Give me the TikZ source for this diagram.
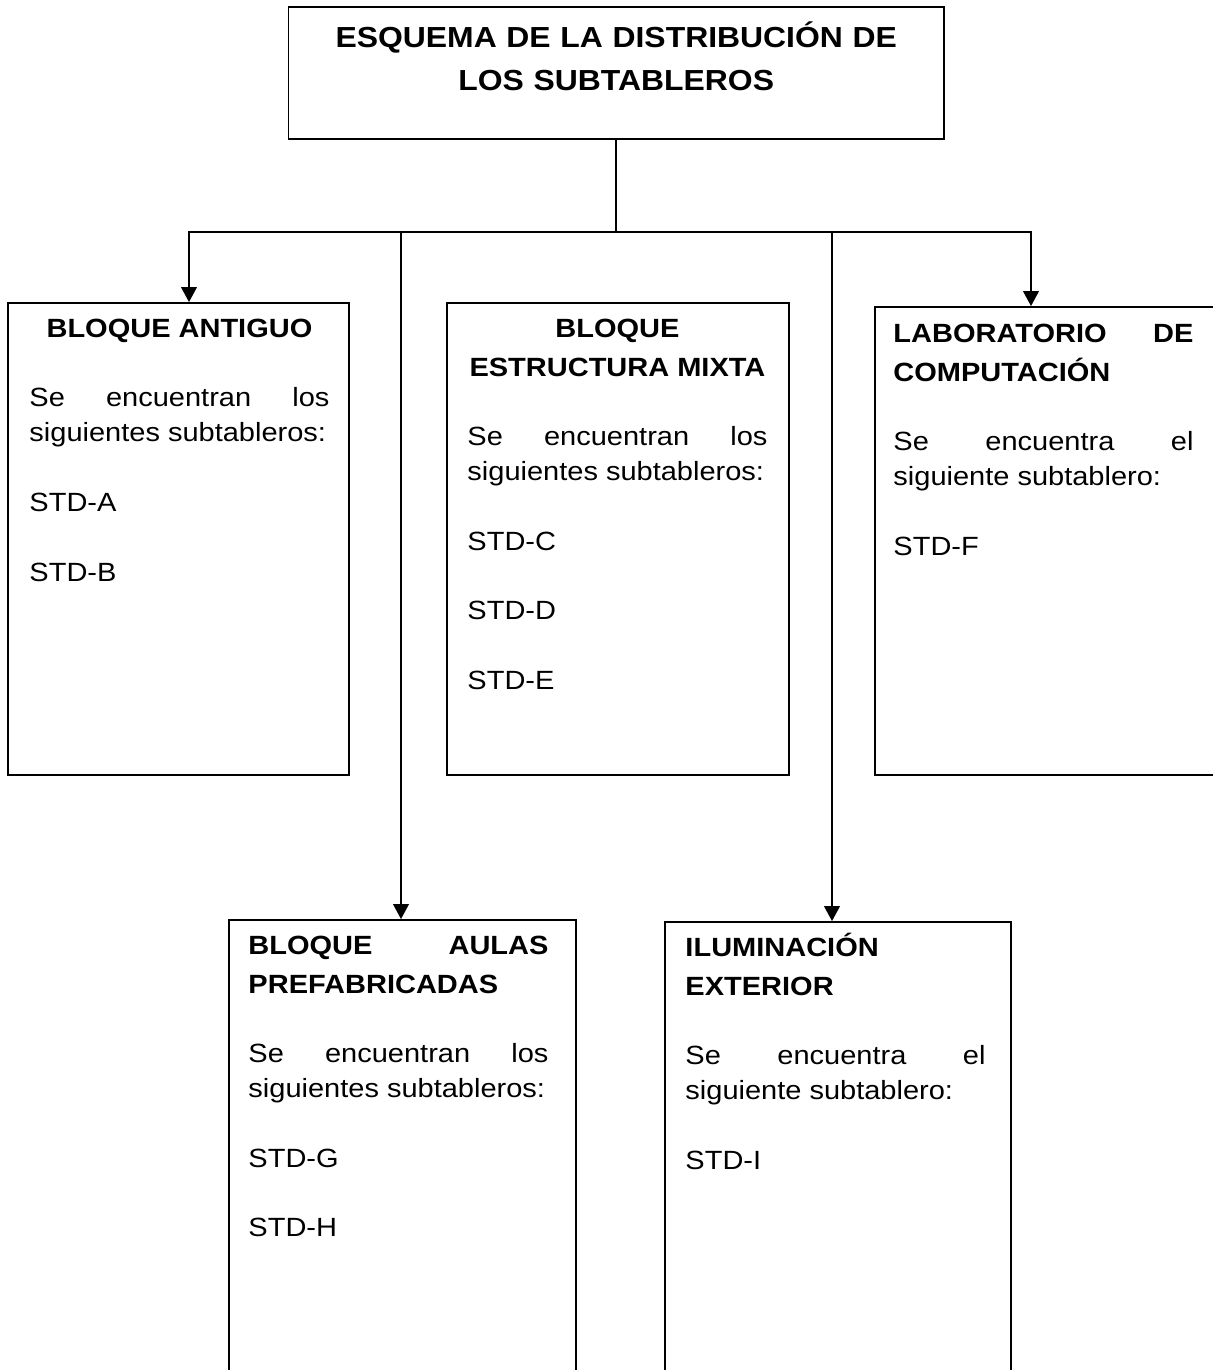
\documentclass[tikz,border=0pt]{standalone}
\usepackage{fontspec}
\setmainfont{Liberation Sans}[FakeStretch=1.1]
\usetikzlibrary{positioning,arrows.meta,calc}
\tolerance=10000
\hbadness=10000
\setlength\parindent{0pt}
\setlength\parskip{0pt}
\newcommand\esqhead{\bfseries\fontsize{15}{21.9}\selectfont}
\newcommand\esqgap[1]{\par\vspace{#1}}
\tikzset{
  esqbox/.style={draw, line width=1pt, inner sep=0pt},
  esqtext/.style={anchor=base west, inner sep=0pt, text width=6cm, align=justify,
    font=\fontsize{15}{19.9}\selectfont},
  esqarrow/.style={-{Triangle[length=3mm, width=3.1mm]}, line width=1.3pt},
}

\begin{document}
\begin{tikzpicture}
  \useasboundingbox (0,0) rectangle (24.24,-27.4);
  \node[esqbox, minimum width=13.11cm, minimum height=2.64cm] (titulo) at (12.325,-1.46) {};
  \node[anchor=base, inner sep=0pt, text width=13cm, align=center,
        font=\bfseries\fontsize{16.5}{24.5}\selectfont] (titulotxt)
        at ($(titulo.north)+(0,-0.82)$) {ESQUEMA DE LA DISTRIBUCIÓN DE\\LOS SUBTABLEROS};

  \node[esqbox, minimum width=6.82cm, minimum height=9.44cm] (antiguo) at (3.57,-10.78) {};
  \node[esqbox, minimum width=6.84cm, minimum height=9.44cm] (mixta) at (12.36,-10.78) {};
  \node[esqbox, minimum width=6.82cm, minimum height=9.36cm] (labo) at (20.91,-10.82) {};
  \node[esqbox, minimum width=6.94cm, minimum height=9.6cm] (aulas) at (8.05,-23.2) {};
  \node[esqbox, minimum width=6.92cm, minimum height=9.56cm] (ilum) at (16.76,-23.22) {};

  \node[esqtext] (antiguotxt) at ($(antiguo.north west)+(0.44,-0.71)$) {%
    {\centering\esqhead BLOQUE ANTIGUO\par}\vspace{0.68cm}
    Se encuentran los\linebreak siguientes subtableros:\esqgap{0.7cm}
    STD-A\esqgap{0.7cm}
    STD-B};
  \node[esqtext] (mixtatxt) at ($(mixta.north west)+(0.42,-0.71)$) {%
    {\centering\esqhead BLOQUE\par ESTRUCTURA MIXTA\par}\vspace{0.68cm}
    Se encuentran los\linebreak siguientes subtableros:\esqgap{0.7cm}
    STD-C\esqgap{0.7cm}
    STD-D\esqgap{0.7cm}
    STD-E};
  \node[esqtext] (labotxt) at ($(labo.north west)+(0.38,-0.73)$) {%
    {\esqhead LABORATORIO DE\linebreak COMPUTACIÓN\par}\vspace{0.68cm}
    Se encuentra el\linebreak siguiente subtablero:\esqgap{0.7cm}
    STD-F};
  \node[esqtext] (aulastxt) at ($(aulas.north west)+(0.4,-0.71)$) {%
    {\esqhead BLOQUE AULAS\linebreak PREFABRICADAS\par}\vspace{0.68cm}
    Se encuentran los\linebreak siguientes subtableros:\esqgap{0.7cm}
    STD-G\esqgap{0.7cm}
    STD-H};
  \node[esqtext] (ilumtxt) at ($(ilum.north west)+(0.42,-0.71)$) {%
    {\esqhead ILUMINACIÓN\par EXTERIOR\par}\vspace{0.68cm}
    Se encuentra el\linebreak siguiente subtablero:\esqgap{0.7cm}
    STD-I};

  \coordinate (busA) at (3.78,-4.64);
  \coordinate (busG) at (8.02,-4.64);
  \coordinate (busI) at (16.64,-4.64);
  \coordinate (busF) at (20.62,-4.64);
  \draw[esqarrow] (titulo.south) |- (busA) -- (busA |- antiguo.north);
  \draw[esqarrow] (titulo.south) |- (busF) -- (busF |- labo.north);
  \draw[esqarrow] (busG) -- (busG |- aulas.north);
  \draw[esqarrow] (busI) -- (busI |- ilum.north);
\end{tikzpicture}
\end{document}
